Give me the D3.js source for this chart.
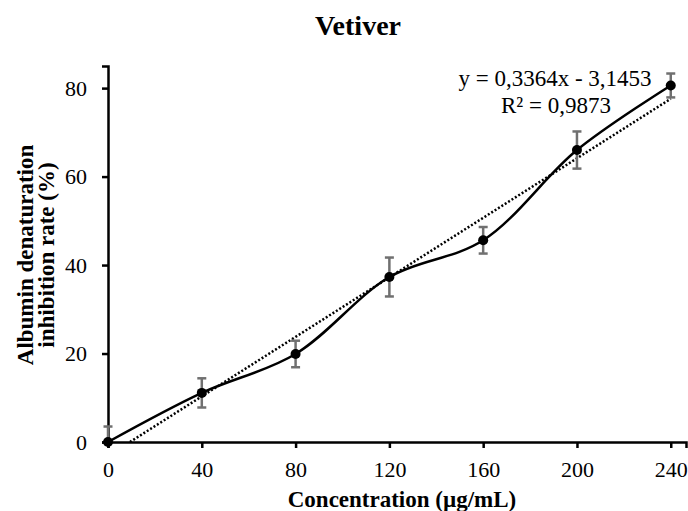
<!DOCTYPE html>
<html>
<head>
<meta charset="utf-8">
<script src="https://cdn.jsdelivr.net/npm/d3@7"></script>
<style>
  body { margin: 0; background: #fff; }
  text { font-family: "Liberation Serif", "Times New Roman", serif; }
</style>
</head>
<body>
<div id="chart"></div>
<script>
(function(){
  var width = 688, height = 511;
  var font = "Liberation Serif";

  // data
  var concentrations = [0, 40, 80, 120, 160, 200, 240];
  var inhibition = [0, 11.1, 19.9, 37.3, 45.6, 66.0, 80.6];
  var errors = [3.5, 3.3, 3.0, 4.4, 3.0, 4.2, 2.7];
  var xTicks = [0, 40, 80, 120, 160, 200, 240];
  var yTicks = [0, 20, 40, 60, 80];
  var slope = 0.3364, intercept = -3.1453;

  var points = concentrations.map(function(c, i){
    return {x: c, y: inhibition[i], e: errors[i]};
  });

  var svg = d3.select("#chart")
    .append("svg")
    .attr("width", width)
    .attr("height", height);

  var x = d3.scaleLinear().domain([0, 246.5]).range([108, 686]);
  var y = d3.scaleLinear().domain([0, 85]).range([442, 66]);

  // title
  svg.append("text")
    .attr("x", 358).attr("y", 35)
    .attr("text-anchor", "middle")
    .attr("font-family", font)
    .style("font-size", "28px")
    .style("font-weight", "bold")
    .text("Vetiver");

  // axes
  var xAxis = svg.append("g")
    .attr("transform", "translate(0," + y(0) + ")")
    .call(d3.axisBottom(x).tickValues(xTicks).tickSizeOuter(0).tickSize(6).tickPadding(13));
  var yAxis = svg.append("g")
    .attr("transform", "translate(" + x(0) + ",0)")
    .call(d3.axisLeft(y).tickValues(yTicks).tickSizeOuter(0).tickSize(6).tickPadding(15));

  [xAxis, yAxis].forEach(function(a){
    a.attr("font-family", font).attr("font-size", 22);
    a.select(".domain").attr("stroke", "#000").attr("stroke-width", 2.5);
    a.selectAll(".tick line").attr("stroke", "#000").attr("stroke-width", 2.5);
    a.selectAll(".tick text").attr("fill", "#000");
  });

  // axis titles
  svg.append("text")
    .attr("x", 402).attr("y", 507)
    .attr("text-anchor", "middle")
    .attr("font-family", font)
    .style("font-size", "23px")
    .style("font-weight", "bold")
    .text("Concentration (\u00b5g/mL)");

  var yTitle = svg.append("text")
    .attr("transform", "translate(33,255) rotate(-90)")
    .attr("text-anchor", "middle")
    .attr("font-family", font)
    .style("font-size", "23px")
    .style("font-weight", "bold");
  yTitle.append("tspan").attr("x", 0).attr("dy", 0).text("Albumin denaturation");
  yTitle.append("tspan").attr("x", 0).attr("dy", 21).text("inhibition rate (%)");

  // linear trendline, dotted
  var x0 = -intercept / slope;
  svg.append("line")
    .attr("x1", x(x0)).attr("y1", y(0))
    .attr("x2", x(240)).attr("y2", y(slope * 240 + intercept))
    .attr("stroke", "#000")
    .attr("stroke-width", 2.5)
    .attr("stroke-dasharray", "2,2");

  // error bars
  var bars = svg.selectAll(".err")
    .data(points)
    .enter().append("g")
    .attr("class", "err")
    .attr("stroke", "#707070")
    .attr("stroke-width", 2.5);
  bars.append("line")
    .attr("x1", function(d){ return x(d.x); })
    .attr("x2", function(d){ return x(d.x); })
    .attr("y1", function(d){ return y(Math.max(0, d.y - d.e)); })
    .attr("y2", function(d){ return y(d.y + d.e); });
  bars.append("line")
    .attr("x1", function(d){ return x(d.x) - 4.5; })
    .attr("x2", function(d){ return x(d.x) + 4.5; })
    .attr("y1", function(d){ return y(d.y + d.e); })
    .attr("y2", function(d){ return y(d.y + d.e); });
  bars.filter(function(d){ return d.y - d.e > 0; }).append("line")
    .attr("x1", function(d){ return x(d.x) - 4.5; })
    .attr("x2", function(d){ return x(d.x) + 4.5; })
    .attr("y1", function(d){ return y(d.y - d.e); })
    .attr("y2", function(d){ return y(d.y - d.e); });

  // smoothed data line
  var line = d3.line()
    .x(function(d){ return x(d.x); })
    .y(function(d){ return y(d.y); })
    .curve(d3.curveCatmullRom.alpha(0.5));
  svg.append("path")
    .datum(points)
    .attr("fill", "none")
    .attr("stroke", "#000")
    .attr("stroke-width", 2.5)
    .attr("d", line);

  svg.selectAll(".pt")
    .data(points)
    .enter().append("circle")
    .attr("class", "pt")
    .attr("cx", function(d){ return x(d.x); })
    .attr("cy", function(d){ return y(d.y); })
    .attr("r", 5)
    .attr("fill", "#000");

  // equation
  svg.append("text")
    .attr("x", 555).attr("y", 86)
    .attr("text-anchor", "middle")
    .attr("font-family", font)
    .style("font-size", "23px")
    .text("y = 0,3364x - 3,1453");
  svg.append("text")
    .attr("x", 556).attr("y", 113)
    .attr("text-anchor", "middle")
    .attr("font-family", font)
    .style("font-size", "23px")
    .text("R\u00b2 = 0,9873");
})();
</script>
</body>
</html>
